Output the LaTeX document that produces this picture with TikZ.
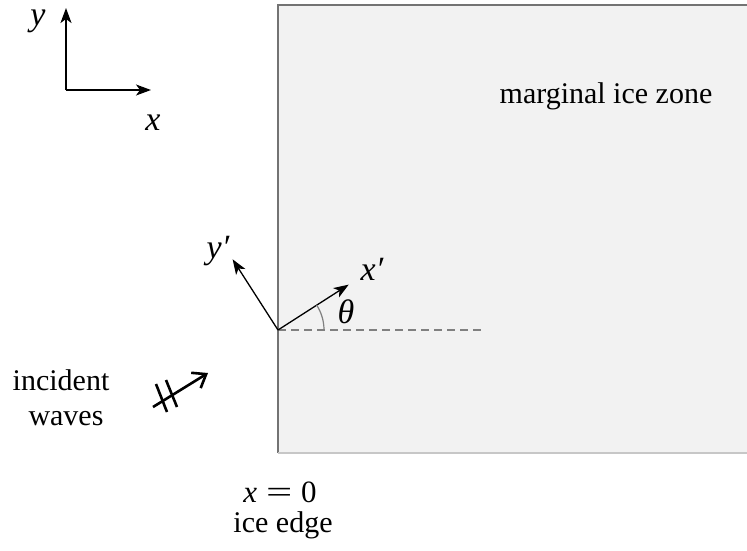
\documentclass[tikz,border=0pt]{standalone}
\usepackage{fontspec}
\setmainfont{Liberation Serif}
\usetikzlibrary{arrows.meta}
\newcommand{\prm}{\raisebox{0pt}{′}}
\begin{document}
\begin{tikzpicture}[x=1pt,y=-1pt,
  axis/.style={line width=1.3pt,-{Stealth[length=15pt,width=11pt,inset=4pt]}},
  lbl/.style={font=\fontsize{34}{36}\selectfont\itshape,inner sep=0pt,anchor=base},
  txt/.style={font=\fontsize{30}{33}\selectfont,inner sep=0pt,anchor=base},
  guide/.style={draw=black!50,line width=1.3pt}]
\useasboundingbox (0,0) rectangle (747,550);
% marginal ice zone region
\fill[black!5] (278,5) rectangle (747,453);
\draw[black!55,line width=1.5pt] (747,5) -- (278,5) -- (278,453);
\draw[black!22,line width=1.5pt] (278,453) -- (747,453);
% small axes
\coordinate (o) at (66,90);
\coordinate (ytip) at (66,8);
\coordinate (xtip) at (151,90);
\draw[axis] (o) -- (ytip);
\draw[axis] (o) -- (xtip);
\node[lbl,text height=16pt] (ylab) at (38,25) {y};
\node[lbl] (xlab) at (153,130) {x};
% rotated axes at the ice edge
\coordinate (O) at (278,330);
\coordinate (dashend) at (482,330);
\draw[guide,dashed,dash pattern=on 8pt off 5pt] (O) -- (dashend);
\draw[axis] (O) -- ++(-32.7:84) coordinate (xptip);
\draw[axis] (O) -- ++(-122.7:84) coordinate (yptip);
\draw[black!50,line width=1.2pt] (O) ++(0:46) arc[start angle=0,end angle=-32.7,radius=46];
\node[lbl] (xplab) at (372,280) {x\prm};
\node[lbl] (yplab) at (218,258) {y\prm};
\node[lbl] (thlab) at (346,323) {θ};
% text labels
\node[txt] (miz) at (606,103) {marginal ice zone};
\node[txt] (inc) at (61,390) {incident};
\node[txt] (wav) at (66,425) {waves};
\node[txt,font=\fontsize{31}{36}\selectfont] (xeq) at (280,502) {\textit{x}\kern9pt\scalebox{1.5}[1]{=}\kern9pt 0};
\node[txt] (edge) at (283,532) {ice edge};
% incident wave arrow
\coordinate (wt) at (153,407);
\coordinate (wh) at (208,373);
\draw[line width=2.6pt,-{Straight Barb[length=12pt,width=18pt,line width=2.6pt]}] (wt) -- (wh);
\coordinate (t1a) at (156,384);
\coordinate (t1b) at (167,412);
\coordinate (t2a) at (166,380);
\coordinate (t2b) at (177,407);
\draw[line width=2.6pt] (t1a) -- (t1b);
\draw[line width=2.6pt] (t2a) -- (t2b);
\end{tikzpicture}
\end{document}
